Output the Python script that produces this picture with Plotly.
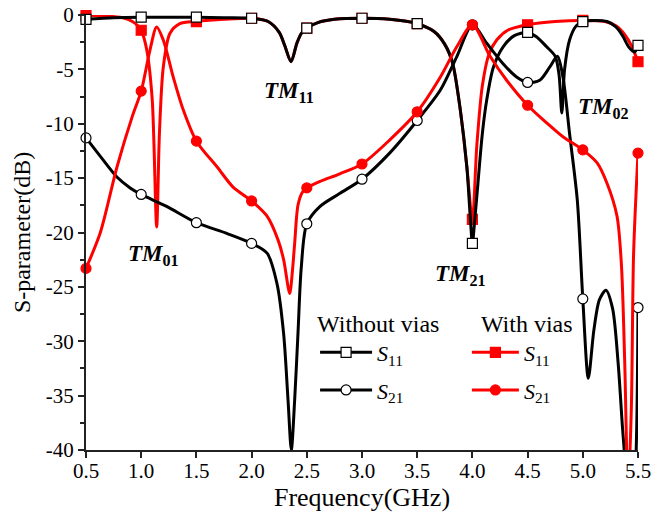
import plotly.graph_objects as go

# ---- measured S-parameters (GHz, dB) ----
# Without vias, S11
wo_s11_f = [0.5, 0.75, 1.0, 1.25, 1.5, 1.75, 2.0, 2.15, 2.25, 2.3, 2.357, 2.41, 2.45, 2.5, 2.6, 2.75,
            3.0, 3.25, 3.5, 3.65, 3.75, 3.82, 3.89, 3.95, 3.98, 4.0, 4.02, 4.05, 4.09, 4.13, 4.19, 4.28,
            4.38, 4.5, 4.58, 4.67, 4.75, 4.785, 4.81, 4.835, 4.88, 4.94, 5.0, 5.1, 5.22, 5.3, 5.36,
            5.42, 5.47, 5.5]
wo_s11_db = [-0.4, -0.25, -0.2, -0.2, -0.2, -0.25, -0.3, -0.6, -1.6, -2.8, -4.3, -2.6, -1.7, -1.2, -0.7, -0.4,
             -0.3, -0.4, -0.8, -1.5, -2.7, -4.4, -8.7, -14.0, -18.5, -21.0, -19.0, -15.5, -10.9, -7.8, -4.8, -2.9,
             -1.9, -1.6, -2.0, -2.9, -3.8, -5.5, -9.0, -5.0, -2.3, -1.0, -0.6, -0.5, -0.6, -1.1, -1.9,
             -3.0, -3.4, -2.8]

# Without vias, S21
wo_s21_f = [0.5, 0.63, 0.78, 0.9, 1.0, 1.23, 1.5, 1.78, 2.0, 2.14, 2.23, 2.29, 2.33, 2.36, 2.39, 2.42,
            2.45, 2.5, 2.62, 2.8, 3.0, 3.25, 3.5, 3.71, 3.86, 4.0, 4.13, 4.28, 4.4, 4.5, 4.61, 4.7,
            4.77, 4.82, 4.88, 4.95, 5.0, 5.05, 5.1, 5.15, 5.21, 5.27, 5.32, 5.36, 5.39, 5.43, 5.48, 5.5]
wo_s21_db = [-11.3, -13.0, -14.9, -15.9, -16.5, -17.6, -19.1, -20.1, -21.0, -21.9, -24.7, -29.3, -35.4, -40.0, -35.4, -29.3,
             -23.2, -19.2, -17.6, -16.4, -15.1, -12.7, -9.7, -6.9, -3.8, -0.9, -2.6, -4.5, -5.7, -6.2, -6.0, -4.8,
             -3.8, -5.7, -10.9, -17.0, -26.1, -33.4, -29.0, -26.2, -25.3, -27.0, -32.0, -38.0, -42.0, -48.0, -41.0, -26.9]

# With vias, S11
w_s11_f = [0.5, 0.7, 0.85, 0.92, 0.97, 1.0, 1.05, 1.1, 1.14, 1.165, 1.2, 1.26, 1.35, 1.5, 1.75, 2.0,
           2.15, 2.25, 2.3, 2.357, 2.41, 2.45, 2.5, 2.6, 2.75, 3.0, 3.25, 3.5, 3.65, 3.75, 3.82, 3.89,
           3.95, 4.0, 4.04, 4.09, 4.15, 4.22, 4.32, 4.5, 4.75, 5.0, 5.2, 5.3, 5.38, 5.44, 5.5]
w_s11_db = [-0.05, -0.1, -0.3, -0.6, -1.0, -1.4, -3.2, -7.8, -19.5, -10.9, -4.8, -1.7, -0.8, -0.6, -0.4, -0.3,
            -0.6, -1.6, -2.8, -4.3, -2.6, -1.7, -1.2, -0.7, -0.4, -0.3, -0.4, -0.8, -1.5, -2.7, -4.4, -8.7,
            -14.0, -18.8, -12.0, -6.5, -3.6, -2.3, -1.4, -0.9, -0.6, -0.5, -0.6, -1.0, -1.8, -2.8, -4.3]

# With vias, S21
w_s21_f = [0.5, 0.63, 0.78, 0.92, 1.0, 1.08, 1.14, 1.2, 1.29, 1.38, 1.5, 1.69, 1.83, 2.0, 2.14, 2.24,
           2.29, 2.345, 2.37, 2.39, 2.42, 2.46, 2.5, 2.62, 2.8, 3.0, 3.25, 3.5, 3.71, 3.86, 4.0, 4.16,
           4.31, 4.5, 4.67, 4.82, 5.0, 5.13, 5.22, 5.31, 5.35, 5.38, 5.41, 5.44, 5.46, 5.5]
w_s21_db = [-23.3, -20.0, -14.0, -9.3, -7.0, -3.2, -1.1, -2.3, -5.7, -8.7, -11.6, -14.0, -15.8, -17.1, -18.5, -20.7,
            -22.5, -25.6, -23.5, -21.0, -17.5, -16.3, -15.9, -15.3, -14.6, -13.7, -11.5, -8.9, -5.7, -2.9, -0.9, -3.8,
            -6.0, -8.3, -9.9, -11.2, -12.4, -13.6, -15.5, -18.5, -23.0, -32.0, -44.0, -36.0, -22.0, -12.7]

x_ticks = [0.5, 1.0, 1.5, 2.0, 2.5, 3.0, 3.5, 4.0, 4.5, 5.0, 5.5]
x_tick_text = ["0.5", "1.0", "1.5", "2.0", "2.5", "3.0", "3.5", "4.0", "4.5", "5.0", "5.5"]
y_ticks = [0, -5, -10, -15, -20, -25, -30, -35, -40]
y_tick_text = ["0", "-5", "-10", "-15", "-20", "-25", "-30", "-35", "-40"]
y_minor_ticks = [-2.5, -7.5, -12.5, -17.5, -22.5, -27.5, -32.5, -37.5]

mode_labels = ["TM<sub>01</sub>", "TM<sub>11</sub>", "TM<sub>21</sub>", "TM<sub>02</sub>"]
mode_f = [1.107, 2.339, 3.888, 5.183]
mode_db = [-22.1, -7.1, -23.9, -8.55]

SERIF = "Liberation Serif"
BLACK = "#000000"
RED = "#ff0000"

fig = go.Figure()


def on_marker_grid(f):
    # symbols are placed every 0.5 GHz along each curve
    return abs(f * 2 - round(f * 2)) < 1e-9


def add_series(freq, db, color, symbol, fill, name, legend):
    mf = [f for f in freq if on_marker_grid(f)]
    md = [d for f, d in zip(freq, db) if on_marker_grid(f)]
    fig.add_trace(go.Scatter(
        x=freq, y=db, mode="lines", showlegend=False, hoverinfo="skip",
        line=dict(color=color, width=3, shape="spline", smoothing=0.8)))
    fig.add_trace(go.Scatter(
        x=mf, y=md, mode="markers", showlegend=False, cliponaxis=False,
        marker=dict(symbol=symbol, size=10, color=fill, line=dict(color=color, width=1.2))))
    # legend key
    fig.add_trace(go.Scatter(
        x=[None], y=[None], mode="lines+markers", name=name, legend=legend,
        legendgroup=legend + name,
        line=dict(color=color, width=3),
        marker=dict(symbol=symbol, size=10, color=fill, line=dict(color=color, width=1.2))))


add_series(w_s11_f, w_s11_db, RED, "square", RED, "<i>S</i><sub>11</sub>", "legend2")
add_series(wo_s11_f, wo_s11_db, BLACK, "square", "white", "<i>S</i><sub>11</sub>", "legend")
add_series(wo_s21_f, wo_s21_db, BLACK, "circle", "white", "<i>S</i><sub>21</sub>", "legend")
add_series(w_s21_f, w_s21_db, RED, "circle", RED, "<i>S</i><sub>21</sub>", "legend2")

for label, f, d in zip(mode_labels, mode_f, mode_db):
    fig.add_annotation(x=f, y=d, text="<b><i>" + label.replace("<sub>", "</i><sub>") + "</b>",
                       showarrow=False, font=dict(family=SERIF, size=23, color="black"))

legend_style = dict(
    font=dict(family=SERIF, size=22, color="black"),
    bgcolor="rgba(0,0,0,0)", borderwidth=0,
    xanchor="left", yanchor="top", tracegroupgap=6,
    traceorder="grouped",
)
fig.update_layout(
    width=667, height=512,
    margin=dict(l=86, r=29, t=15, b=62, autoexpand=False),
    paper_bgcolor="white", plot_bgcolor="white",
    font=dict(family=SERIF, size=21, color="black"),
    legend=dict(title=dict(text="Without vias", font=dict(family=SERIF, size=24)),
                x=0.415, y=0.344, itemwidth=52, **legend_style),
    legend2=dict(title=dict(text="&nbsp;&nbsp;With vias", font=dict(family=SERIF, size=24)),
                 x=0.69, y=0.344, itemwidth=47, **legend_style),
    xaxis=dict(range=[0.5, 5.5], tickvals=x_ticks, ticktext=x_tick_text, automargin=False,
               showline=True, linewidth=2, linecolor="#222", mirror=False,
               ticks="outside", ticklen=6, tickwidth=2, tickcolor="#222",
               showgrid=False, zeroline=False, ticklabelstandoff=-5,
               tickfont=dict(family=SERIF, size=21),
               title=dict(text="Frequency(GHz)", font=dict(family=SERIF, size=26), standoff=4)),
    yaxis=dict(range=[-40, 0], tickvals=y_ticks, ticktext=y_tick_text, automargin=False,
               showline=True, linewidth=2, linecolor="#222", mirror=False,
               ticks="outside", ticklen=6, tickwidth=2, tickcolor="#222",
               minor=dict(tickvals=y_minor_ticks,
                          ticks="outside", ticklen=4, tickwidth=2, tickcolor="#222"),
               showgrid=False, zeroline=False,
               tickfont=dict(family=SERIF, size=21),
               title=dict(text="S-parameter(dB)", font=dict(family=SERIF, size=24), standoff=8)),
)

fig.write_html("out.html")
